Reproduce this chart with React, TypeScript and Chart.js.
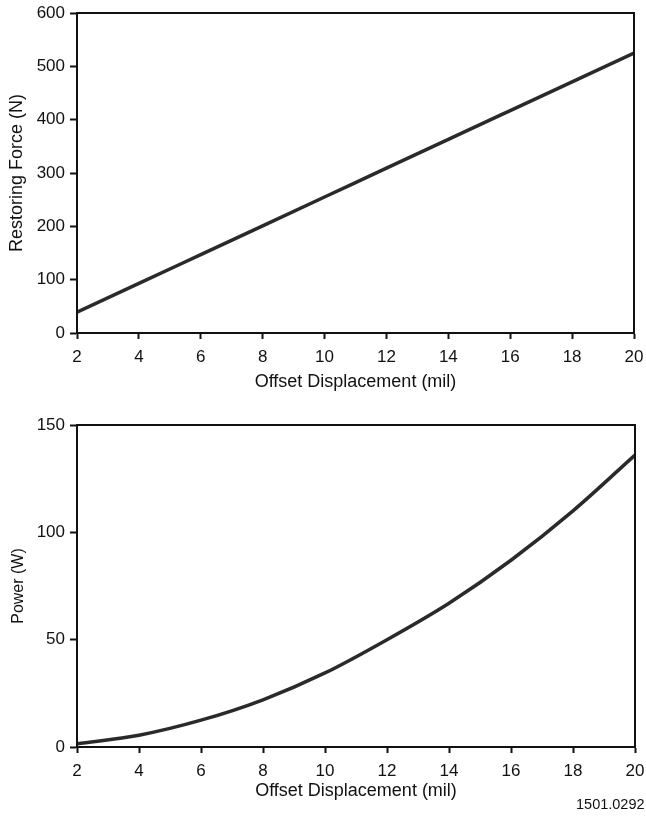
import React, { useEffect, useRef } from "react";
import { Chart, registerables } from "chart.js";
Chart.register(...registerables);

const displacement = [2, 4, 6, 8, 10, 12, 14, 16, 18, 20];
const restoringForce = [39, 93, 147, 201, 255, 309, 363, 417, 471, 525];
const power = [1.5, 5.5, 12.5, 22, 34.5, 50, 67, 87, 110, 136];
const forceTicks = [0, 100, 200, 300, 400, 500, 600];
const powerTicks = [0, 50, 100, 150];
const xTicks = [2, 4, 6, 8, 10, 12, 14, 16, 18, 20];

const FONT = "'Liberation Sans', Arial, sans-serif";

const boxPlugin = {
  id: "box",
  afterDraw(chart: any) {
    const { ctx, chartArea } = chart;
    ctx.save();
    ctx.strokeStyle = "#111";
    ctx.lineWidth = 2;
    ctx.strokeRect(chartArea.left, chartArea.top, chartArea.right - chartArea.left, chartArea.bottom - chartArea.top);
    ctx.restore();
  },
};

function makeConfig(
  values: number[], yMax: number, yTicks: number[], yTitle: string, pad: any,
  yW: number, xH: number, yTitleSize: number, yTitlePad: number, xTitlePad: number
) {
  return {
    type: "line" as const,
    data: {
      datasets: [
        {
          data: displacement.map((x, i) => ({ x, y: values[i] })),
          borderColor: "#2a2a2a",
          borderWidth: 3.5,
          pointRadius: 0,
          tension: 0.4,
          cubicInterpolationMode: "monotone" as const,
          fill: false,
        },
      ],
    },
    options: {
      animation: false,
      responsive: false,
      maintainAspectRatio: false,
      layout: { padding: pad },
      plugins: { legend: { display: false }, tooltip: { enabled: false } },
      scales: {
        x: {
          type: "linear" as const,
          min: 2,
          max: 20,
          afterBuildTicks: (s: any) => { s.ticks = xTicks.map((v) => ({ value: v })); },
          afterFit: (s: any) => { s.height = xH; s.paddingLeft = 0; s.paddingRight = 0; },
          grid: { drawOnChartArea: false, drawTicks: true, tickLength: 6, tickWidth: 2, color: "#111" },
          border: { display: true, color: "#111", width: 2 },
          ticks: { color: "#111", font: { family: FONT, size: 17 }, padding: 8, maxRotation: 0 },
          title: { display: true, text: "Offset Displacement (mil)", color: "#111", font: { family: FONT, size: 18 }, padding: { top: 0, bottom: xTitlePad } },
        },
        y: {
          type: "linear" as const,
          min: 0,
          max: yMax,
          afterBuildTicks: (s: any) => { s.ticks = yTicks.map((v) => ({ value: v })); },
          afterFit: (s: any) => { s.width = yW; s.paddingTop = 0; s.paddingBottom = 0; },
          grid: { drawOnChartArea: false, drawTicks: true, tickLength: 7, tickWidth: 2, color: "#111" },
          border: { display: true, color: "#111", width: 2 },
          ticks: { color: "#111", font: { family: FONT, size: 17 }, padding: 5 },
          title: { display: true, text: yTitle, color: "#111", font: { family: FONT, size: yTitleSize }, padding: { top: yTitlePad, bottom: 0 } },
        },
      },
    },
    plugins: [boxPlugin],
  };
}

function ChartCanvas({ config, w, h, top }: { config: any; w: number; h: number; top: number }) {
  const ref = useRef<HTMLCanvasElement>(null);
  useEffect(() => {
    const c = new Chart(ref.current!, config);
    return () => c.destroy();
  }, []);
  return (
    <canvas ref={ref} width={w} height={h} style={{ position: "absolute", left: 0, top, width: w, height: h }} />
  );
}

export default function App() {
  const topCfg = makeConfig(restoringForce, 600, forceTicks, "Restoring Force (N)", { left: 0, right: 12, top: 13, bottom: 0 }, 77, 67, 18, 6, 7);
  const botCfg = makeConfig(power, 150, powerTicks, "Power (W)", { left: 0, right: 11, top: 25, bottom: 0 }, 77, 70, 16, 9, 15);
  return (
    <div style={{ position: "fixed", left: 0, top: 0, width: 646, height: 817, background: "#fff", overflow: "hidden" }}>
      <ChartCanvas config={topCfg} w={646} h={400} top={0} />
      <ChartCanvas config={botCfg} w={646} h={417} top={400} />
      <div style={{ position: "absolute", left: 576, top: 796, fontFamily: FONT, fontSize: 14.5, color: "#111", whiteSpace: "nowrap" }}>1501.0292</div>
    </div>
  );
}
